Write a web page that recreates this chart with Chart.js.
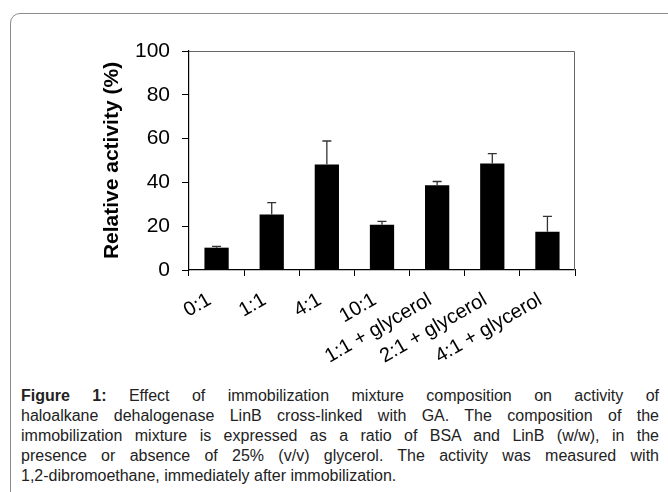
<!DOCTYPE html>
<html>
<head>
<meta charset="utf-8">
<script src="https://cdn.jsdelivr.net/npm/chart.js@4.4.1/dist/chart.umd.min.js"></script>
<style>
  html, body { margin: 0; padding: 0; background: #fff; width: 668px; height: 492px; overflow: hidden; }
  #frame {
    position: absolute; left: 10px; top: 13px; width: 700px; height: 520px;
    border: 1.5px solid #8c8c8c; border-radius: 10px; box-sizing: border-box;
  }
  #wrap { position: absolute; left: 0; top: 0; width: 668px; height: 375px; }
  #caption {
    position: absolute; left: 21px; top: 386px; width: 638px;
    font-family: "Liberation Sans", Arial, sans-serif; font-size: 16px; line-height: 20px;
    color: #222;
  }
  #caption div { text-align: justify; text-align-last: justify; white-space: nowrap; }
  #caption div.last { text-align-last: left; }
</style>
</head>
<body>
<div id="frame"></div>
<div id="wrap"><canvas id="barChart" width="668" height="375"></canvas></div>
<div id="caption">
  <div><b>Figure 1:</b> Effect of immobilization mixture composition on activity of</div>
  <div>haloalkane dehalogenase LinB cross-linked with GA. The composition of the</div>
  <div>immobilization mixture is expressed as a ratio of BSA and LinB (w/w), in the</div>
  <div>presence or absence of 25% (v/v) glycerol. The activity was measured with</div>
  <div class="last">1,2-dibromoethane, immediately after immobilization.</div>
</div>
<script>
// data
const labels = ['0:1', '1:1', '4:1', '10:1', '1:1 + glycerol', '2:1 + glycerol', '4:1 + glycerol'];
const activity = [10.2, 25.3, 48.2, 20.7, 38.7, 48.6, 17.5];
const errUp = [0.6, 5.5, 10.7, 1.5, 1.7, 4.5, 7.0];
const yTicks = [0, 20, 40, 60, 80, 100];

const FONT = '"Liberation Sans", Arial, sans-serif';

// upper error bars with caps
const errorBars = {
    id: 'errorBars',
    afterDatasetsDraw(chart) {
        const ctx = chart.ctx;
        const y = chart.scales.y;
        const meta = chart.getDatasetMeta(0);
        ctx.save();
        ctx.strokeStyle = '#333';
        ctx.lineWidth = 1.3;
        meta.data.forEach((bar, i) => {
            const top = y.getPixelForValue(activity[i] + errUp[i]);
            const base = y.getPixelForValue(activity[i]);
            ctx.beginPath();
            ctx.moveTo(bar.x, base);
            ctx.lineTo(bar.x, top);
            ctx.moveTo(bar.x - 4.5, top);
            ctx.lineTo(bar.x + 4.5, top);
            ctx.stroke();
        });
        ctx.restore();
    }
};

// thin box on top and right of plot
const plotBox = {
    id: 'plotBox',
    afterDraw(chart) {
        const a = chart.chartArea, ctx = chart.ctx;
        ctx.save();
        ctx.strokeStyle = '#666';
        ctx.lineWidth = 1;
        ctx.beginPath();
        ctx.moveTo(a.left, a.top + 0.5);
        ctx.lineTo(a.right - 0.5, a.top + 0.5);
        ctx.lineTo(a.right - 0.5, a.bottom);
        ctx.stroke();
        ctx.restore();
    }
};

new Chart(document.getElementById('barChart'), {
    type: 'bar',
    data: {
        labels: labels,
        datasets: [{
            data: activity,
            backgroundColor: '#000',
            borderWidth: 0,
            categoryPercentage: 1,
            barPercentage: 0.44
        }]
    },
    options: {
        responsive: false,
        animation: false,
        layout: { padding: { left: 100, right: 93, top: 51, bottom: 0 } },
        plugins: { legend: { display: false }, tooltip: { enabled: false } },
        scales: {
            x: {
                grid: { display: true, offset: true, drawOnChartArea: false, drawTicks: true, tickLength: 6, color: '#000' },
                border: { display: true, color: '#000', width: 1.2 },
                ticks: {
                    autoSkip: false, minRotation: 30, maxRotation: 30, padding: 12, labelOffset: -7,
                    color: '#000', font: { family: FONT, size: 20 }
                },
                afterFit: s => { s.height = 105; }
            },
            y: {
                min: 0, max: 100,
                afterBuildTicks: s => { s.ticks = yTicks.map(v => ({ value: v })); },
                grid: { display: true, drawOnChartArea: false, drawTicks: true, tickLength: 7, color: '#000' },
                border: { display: true, color: '#000', width: 1.2 },
                ticks: { padding: 12, color: '#000', font: { family: FONT, size: 21 } },
                title: {
                    display: true, text: 'Relative activity (%)', color: '#000',
                    font: { family: FONT, size: 21, weight: 'bold' }, padding: { top: 0, bottom: 0 }
                },
                afterFit: s => { s.width = 89; }
            }
        }
    },
    plugins: [errorBars, plotBox]
});
</script>
</body>
</html>
